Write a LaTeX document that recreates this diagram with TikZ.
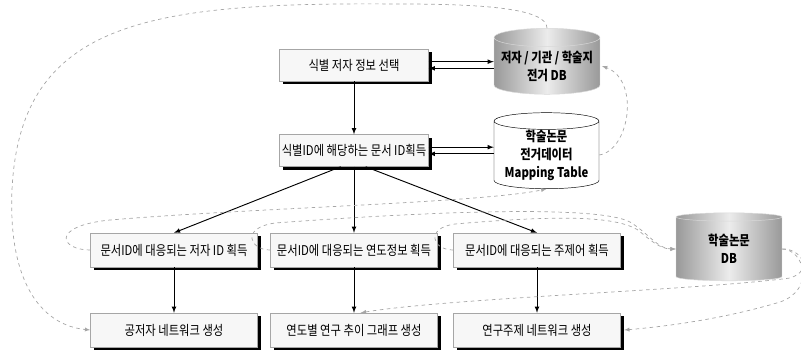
\documentclass[tikz,border=0pt]{standalone}
\usepackage{fontspec}
\setmainfont{Noto Sans CJK KR}[FakeStretch=0.84]
\usetikzlibrary{arrows,calc,positioning,shadows,shapes.geometric}

\begin{document}
\begin{tikzpicture}[
    x=0.3mm, y=-0.3mm,
    font=\fontsize{11.5}{15.4}\selectfont,
    procbox/.style={rectangle, draw=gray!70, fill=gray!6, inner xsep=0.3mm, text=black,
        drop shadow={shadow xshift=1mm, shadow yshift=-1mm, fill=black, opacity=1}},
    narrowbox/.style={procbox, minimum width=44.7mm, minimum height=9.6mm},
    widebox/.style={procbox, minimum width=50.1mm, minimum height=10.2mm},
    dbstore/.style={cylinder, shape border rotate=90, aspect=0.2, align=center, inner sep=0,
        font=\fontsize{11.5}{15.4}\selectfont\bfseries},
    dbgray/.style={dbstore, draw=gray!30, left color=gray!80, right color=gray!80, middle color=gray!15},
    dbwhite/.style={dbstore, draw=black, fill=white},
    flow/.style={-latex, thick, black},
    datalink/.style={-latex, gray!70, dashed, semithick}]

\useasboundingbox (0,0) rectangle (801,351);

% process steps
\node[narrowbox] (select) at (354,65) {식별 저자 정보 선택};
\node[narrowbox] (docid) at (354,150.5) {식별ID에 해당하는 문서 ID획득};
\node[widebox] (authid) at (174,250) {문서ID에 대응되는 저자 ID 획득};
\node[widebox] (yearinfo) at (354,250) {문서ID에 대응되는 연도정보 획득};
\node[widebox] (keyword) at (537,250) {문서ID에 대응되는 주제어 획득};
\node[widebox] (coauthnet) at (174,330) {공저자 네트워크 생성};
\node[widebox] (trendgraph) at (354,330) {연도별 연구 추이 그래프 생성};
\node[widebox] (topicnet) at (537,330) {연구주제 네트워크 생성};

% data stores
\node[dbgray, minimum width=31.8mm, minimum height=19.8mm] (authdb) at (547,66) {저자 / 기관 / 학술지\\전거 DB};
\node[dbwhite, minimum width=31.5mm, minimum height=21mm] (mapdb) at (546.5,155) {학술논문\\전거데이터\\Mapping Table};
\node[dbgray, minimum width=31.8mm, minimum height=20.4mm] (paperdb) at (729,249) {학술논문\\DB};

% main flow
\draw[flow] (select) -- (docid);
\draw[flow] ([yshift=1mm]select.east) -- ([yshift=1mm]select.east -| authdb.west);
\draw[flow] ([yshift=-1mm]select.east -| authdb.west) -- ([yshift=-1mm]select.east);
\draw[flow] ([yshift=1mm]docid.east) -- ([yshift=1mm]docid.east -| mapdb.west);
\draw[flow] ([yshift=-1mm]docid.east -| mapdb.west) -- ([yshift=-1mm]docid.east);
\draw[flow] ([xshift=-4mm]docid.south) -- (authid.north);
\draw[flow] (docid) -- (yearinfo);
\draw[flow] ([xshift=3.5mm]docid.south) -- (keyword.north);
\draw[flow] (authid) -- (coauthnet);
\draw[flow] (yearinfo) -- (trendgraph);
\draw[flow] (keyword) -- (topicnet);

% data links
\draw[datalink] (authdb.north) .. controls (547,8) and (480,4) .. (400,4)
    .. controls (150,2) and (20,20) .. (12,190)
    .. controls (8,280) and (40,325) .. (coauthnet.west);
\draw[datalink] (mapdb.east) .. controls (630,150) and (640,80) .. ([xshift=0.5mm]authdb.east);
\draw[datalink] (authid.west) .. controls (60,250) and (50,226) .. (110,220)
    .. controls (250,208) and (480,203) .. (mapdb.south);
\draw[datalink] (yearinfo.west) .. controls (250,250) and (240,228) .. (275,223)
    .. controls (450,210) and (600,206) .. (630,222)
    .. controls (648,233) and (658,249) .. (paperdb.west);
\draw[datalink] (keyword.west) .. controls (432,250) and (425,228) .. (455,224)
    .. controls (560,215) and (615,216) .. (638,230)
    .. controls (650,240) and (660,249) .. (paperdb.west);
\draw[datalink] (paperdb.east) .. controls (800,248) and (815,270) .. (790,278)
    .. controls (700,290) and (450,298) .. ([xshift=2mm]trendgraph.north);
\draw[datalink] (paperdb.east) .. controls (805,250) and (815,290) .. (780,302)
    .. controls (720,320) and (660,327) .. ([xshift=1mm]topicnet.east);

\end{tikzpicture}
\end{document}
